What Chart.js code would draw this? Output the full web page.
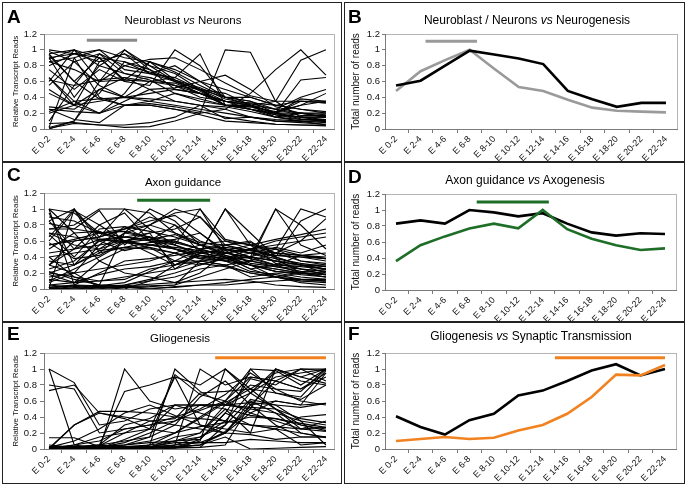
<!DOCTYPE html>
<html>
<head>
<meta charset="utf-8">
<script src="https://cdn.jsdelivr.net/npm/chart.js@4.4.1/dist/chart.umd.min.js"></script>
<style>
  body { margin: 0; background: #fff; }
  #fig { position: relative; width: 686px; height: 486px; font-family: "Liberation Sans", Arial, sans-serif; }
  .box { position: absolute; border: 1.5px solid #222; box-sizing: border-box; }
  canvas { position: absolute; }
  .letter { position: absolute; font-weight: bold; font-size: 19px; line-height: 18px; color: #000; }
  .title { position: absolute; font-size: 11.5px; line-height: 11px; white-space: nowrap; transform: translateX(-50%); color: #000; }
  .title.big { font-size: 12px; line-height: 11.5px; }
</style>
</head>
<body>
<div id="fig">
  <div class="box" style="left:2px;top:2px;width:340px;height:160px"></div>
  <div class="box" style="left:344px;top:2px;width:341px;height:160px"></div>
  <div class="box" style="left:2px;top:162px;width:340px;height:160px"></div>
  <div class="box" style="left:344px;top:162px;width:341px;height:160px"></div>
  <div class="box" style="left:2px;top:322px;width:340px;height:162px"></div>
  <div class="box" style="left:344px;top:322px;width:341px;height:162px"></div>

  <canvas id="chartA" width="341" height="160" style="left:1px;top:1px"></canvas>
  <canvas id="chartB" width="341" height="160" style="left:344px;top:1px"></canvas>
  <canvas id="chartC" width="341" height="159" style="left:1px;top:162px"></canvas>
  <canvas id="chartD" width="341" height="159" style="left:344px;top:162px"></canvas>
  <canvas id="chartE" width="341" height="162" style="left:1px;top:322px"></canvas>
  <canvas id="chartF" width="341" height="162" style="left:344px;top:322px"></canvas>

  <div class="letter" style="left:7px;top:8px">A</div>
  <div class="letter" style="left:348px;top:8px">B</div>
  <div class="letter" style="left:7px;top:166px">C</div>
  <div class="letter" style="left:348px;top:168px">D</div>
  <div class="letter" style="left:7px;top:325px">E</div>
  <div class="letter" style="left:348px;top:325px">F</div>

  <div class="title" style="left:183px;top:15px">Neuroblast <i>vs</i> Neurons</div>
  <div class="title big" style="left:527px;top:15px">Neuroblast / Neurons <i>vs</i> Neurogenesis</div>
  <div class="title" style="left:183px;top:177px">Axon guidance</div>
  <div class="title big" style="left:525px;top:175px">Axon guidance <i>vs</i> Axogenesis</div>
  <div class="title" style="left:180px;top:333px">Gliogenesis</div>
  <div class="title big" style="left:531px;top:331px">Gliogenesis <i>vs</i> Synaptic Transmission</div>
</div>

<script>
const stages = ["E 0-2", "E 2-4", "E 4-6", "E 6-8", "E 8-10", "E 10-12", "E 12-14", "E 14-16", "E 16-18", "E 18-20", "E 20-22", "E 22-24"];
const yTicks = [0, 0.2, 0.4, 0.6, 0.8, 1, 1.2];

// A: individual neuroblast / neuron genes
const neuronGenes = [
    [1.0, 0.95, 0.9, 0.85, 0.75, 0.6, 0.5, 0.35, 0.3, 0.2, 0.15, 0.15],
    [0.95, 1.0, 0.8, 0.7, 0.65, 0.55, 0.45, 0.3, 0.25, 0.15, 0.1, 0.1],
    [0.9, 0.4, 0.8, 1.0, 0.8, 0.6, 0.5, 0.3, 0.3, 0.2, 0.2, 0.2],
    [0.6, 1.0, 0.9, 0.6, 0.55, 1.0, 0.8, 0.4, 0.35, 0.2, 0.3, 0.35],
    [0.02, 0.1, 0.6, 1.0, 0.75, 0.5, 0.45, 0.35, 0.25, 0.2, 0.35, 0.35],
    [0.85, 0.9, 1.0, 0.75, 0.7, 0.65, 0.95, 0.3, 0.25, 0.18, 0.15, 0.12],
    [0.25, 0.22, 0.2, 0.3, 0.3, 0.25, 0.2, 1.0, 0.97, 0.35, 0.15, 0.1],
    [0.01, 0.07, 0.05, 0.02, 0.03, 0.1, 0.2, 0.25, 0.45, 0.75, 1.0, 0.68],
    [0.45, 0.3, 0.5, 0.4, 0.45, 0.5, 0.45, 0.35, 0.3, 0.35, 0.87, 1.0],
    [0.65, 0.3, 0.85, 0.95, 0.7, 0.8, 0.6, 0.4, 0.3, 0.2, 0.62, 0.65],
    [0.98, 0.85, 0.55, 0.4, 0.35, 0.3, 0.25, 0.2, 0.15, 0.1, 0.1, 0.05],
    [0.8, 0.95, 1.0, 0.9, 0.85, 0.75, 0.6, 0.5, 0.4, 0.3, 0.25, 0.2],
    [0.9, 0.95, 0.85, 0.95, 0.8, 0.7, 0.5, 0.3, 0.3, 0.15, 0.2, 0.15],
    [0.2, 0.3, 0.35, 0.4, 0.6, 0.65, 0.5, 0.4, 0.35, 0.25, 0.4, 0.5],
    [0.28, 0.25, 0.45, 0.85, 0.7, 0.6, 0.45, 0.3, 0.3, 0.2, 0.38, 0.35],
    [0.62, 0.55, 0.62, 0.65, 0.6, 0.55, 0.4, 0.35, 0.33, 0.3, 0.35, 0.33],
    [0.5, 0.3, 0.2, 0.45, 0.85, 0.72, 0.55, 0.4, 0.4, 0.3, 0.25, 0.22],
    [0.02, 0.9, 0.4, 0.3, 0.35, 0.45, 0.35, 0.3, 0.28, 0.18, 0.12, 0.12],
    [0.75, 0.5, 0.75, 0.6, 0.65, 0.55, 0.5, 0.45, 0.3, 0.25, 0.17, 0.17],
    [0.93, 0.6, 0.38, 0.3, 0.3, 0.25, 0.18, 0.1, 0.08, 0.06, 0.05, 0.04],
    [0.1, 0.55, 0.95, 0.8, 0.88, 0.9, 0.75, 0.58, 0.42, 0.35, 0.35, 0.33],
    [0.88, 1.0, 0.6, 0.62, 0.6, 0.58, 0.45, 0.35, 0.3, 0.2, 0.13, 0.1],
    [0.65, 0.35, 0.2, 0.35, 0.5, 0.52, 0.6, 0.68, 0.5, 0.28, 0.2, 0.18],
    [0.25, 0.12, 0.08, 0.3, 0.32, 0.28, 0.22, 0.15, 0.1, 0.06, 0.05, 0.05],
    [0.0, 0.1, 0.5, 0.65, 0.5, 0.35, 0.3, 0.13, 0.15, 0.12, 0.1, 0.08],
    [0.55, 0.85, 0.95, 0.7, 0.62, 0.45, 0.38, 0.3, 0.28, 0.22, 0.3, 0.45],
    [0.85, 0.75, 0.6, 0.8, 0.72, 0.62, 0.52, 0.38, 0.32, 0.25, 0.2, 0.15],
    [0.22, 0.35, 0.38, 0.4, 0.38, 0.35, 0.3, 0.28, 0.22, 0.15, 0.12, 0.1],
    [0.07, 0.08, 0.05, 0.05, 0.08, 0.15, 0.3, 0.25, 0.15, 0.1, 0.08, 0.06],
    [0.95, 0.6, 0.9, 0.62, 0.85, 0.62, 0.48, 0.3, 0.25, 0.18, 0.15, 0.15]
];

// B: totals
const neuroblastNeurons = [0.48, 0.73, 0.87, 1.0, 0.76, 0.53, 0.48, 0.37, 0.27, 0.23, 0.22, 0.21];
const neurogenesis = [0.55, 0.61, 0.80, 0.99, 0.94, 0.89, 0.82, 0.48, 0.375, 0.28, 0.33, 0.33];

// C: individual axon guidance genes
const axonGenes = [
    [1.0, 0.95, 0.7, 0.6, 0.55, 0.5, 0.45, 0.4, 0.35, 0.3, 0.28, 0.25],
    [0.85, 1.0, 0.45, 0.7, 0.65, 0.3, 0.45, 0.5, 0.4, 0.35, 0.3, 0.25],
    [0.01, 1.0, 0.65, 0.75, 0.9, 0.8, 0.6, 0.5, 0.45, 0.35, 0.3, 0.3],
    [1.0, 0.05, 0.01, 0.02, 0.03, 0.05, 0.35, 0.3, 0.2, 0.15, 0.1, 0.1],
    [0.75, 0.8, 1.0, 1.0, 0.95, 0.7, 0.55, 0.45, 0.5, 0.4, 0.3, 0.25],
    [0.2, 0.15, 0.1, 0.12, 0.25, 0.3, 0.45, 1.0, 0.7, 0.4, 0.3, 0.25],
    [0.3, 0.6, 0.65, 1.0, 0.75, 0.55, 1.0, 0.5, 0.4, 0.35, 0.3, 0.2],
    [0.05, 0.08, 0.1, 0.15, 0.2, 0.25, 0.35, 0.3, 0.35, 1.0, 0.8, 0.5],
    [0.4, 0.45, 0.5, 0.6, 0.55, 0.5, 0.4, 0.35, 0.4, 0.5, 1.0, 0.9],
    [0.15, 0.2, 0.25, 0.3, 0.35, 0.45, 0.55, 0.6, 0.5, 0.4, 0.85, 1.0],
    [0.7, 0.55, 0.5, 0.7, 1.0, 0.85, 0.55, 0.45, 0.38, 0.3, 0.2, 0.15],
    [0.22, 0.12, 0.05, 0.03, 0.01, 0.02, 0.05, 0.05, 0.08, 0.1, 0.12, 0.12],
    [0.55, 0.6, 0.65, 0.75, 0.8, 1.0, 0.9, 0.6, 0.55, 0.5, 0.42, 0.38],
    [0.95, 0.3, 0.62, 0.6, 0.65, 0.55, 0.42, 0.38, 0.3, 0.25, 0.2, 0.18],
    [0.08, 0.2, 0.02, 0.0, 0.1, 0.3, 0.42, 0.38, 0.5, 0.6, 0.65, 0.7],
    [0.6, 0.98, 0.8, 0.6, 0.7, 0.75, 0.9, 0.55, 0.45, 0.42, 0.4, 0.35],
    [0.3, 0.2, 0.55, 0.78, 0.6, 0.55, 0.45, 1.0, 0.55, 0.32, 0.25, 0.22],
    [0.0, 0.01, 0.03, 0.05, 0.1, 0.15, 0.25, 0.3, 0.15, 0.2, 0.15, 0.12],
    [0.45, 0.5, 0.62, 0.65, 0.7, 0.25, 0.45, 0.48, 0.55, 0.62, 0.68, 0.75],
    [0.68, 0.4, 0.75, 0.78, 0.72, 0.65, 0.55, 0.42, 0.35, 0.28, 0.22, 0.2],
    [0.1, 0.25, 0.4, 0.58, 0.62, 0.58, 0.5, 0.4, 0.3, 0.22, 0.18, 0.15],
    [0.82, 0.75, 0.7, 0.65, 0.6, 0.8, 0.45, 0.4, 0.25, 0.3, 0.3, 0.28],
    [0.02, 0.05, 0.04, 0.08, 0.22, 0.35, 0.35, 0.38, 0.4, 1.0, 0.55, 0.42],
    [0.35, 0.3, 0.48, 0.52, 0.5, 0.45, 0.38, 0.35, 0.3, 0.25, 0.2, 0.15],
    [0.01, 0.04, 0.03, 0.02, 0.0, 0.03, 0.05, 0.08, 0.12, 0.15, 0.2, 0.25],
    [0.55, 0.62, 0.7, 0.75, 0.85, 0.92, 0.7, 0.45, 0.5, 0.5, 0.35, 0.32],
    [0.9, 0.85, 0.7, 0.72, 0.65, 0.5, 0.38, 0.45, 0.4, 0.35, 0.25, 0.18],
    [0.18, 0.08, 0.35, 0.2, 0.15, 0.08, 0.2, 0.45, 0.4, 0.3, 0.42, 0.45],
    [0.02, 0.05, 0.2, 0.35, 0.38, 0.42, 0.48, 0.35, 0.22, 0.18, 0.12, 0.1],
    [0.75, 0.75, 0.98, 0.55, 0.8, 0.7, 0.58, 0.55, 0.48, 0.42, 0.4, 0.38],
    [0.3, 0.5, 0.55, 0.6, 0.45, 0.3, 0.35, 0.55, 0.6, 0.38, 0.2, 0.18],
    [0.12, 0.08, 0.18, 0.25, 0.28, 0.35, 0.5, 0.55, 0.58, 0.45, 0.35, 0.3],
    [0.65, 1.0, 0.6, 0.48, 0.55, 0.6, 0.5, 0.42, 0.3, 0.15, 0.12, 0.1],
    [0.05, 0.02, 0.0, 0.05, 0.12, 0.2, 0.3, 0.4, 0.25, 0.15, 0.08, 0.05],
    [0.7, 0.65, 0.62, 0.58, 0.55, 0.52, 0.48, 0.45, 0.5, 0.55, 0.6, 0.65],
    [0.85, 0.5, 0.8, 0.95, 0.6, 0.5, 0.42, 0.35, 0.3, 0.22, 0.2, 0.18],
    [0.25, 0.35, 0.6, 0.65, 0.62, 0.68, 0.55, 0.5, 0.45, 0.38, 0.32, 0.28],
    [0.0, 0.03, 0.05, 0.04, 0.06, 0.08, 0.1, 0.12, 0.1, 0.05, 0.03, 0.02],
    [0.4, 0.15, 0.05, 0.7, 0.8, 0.95, 1.0, 0.62, 0.55, 0.45, 0.42, 0.4],
    [1.0, 0.7, 0.35, 0.5, 0.52, 0.45, 0.32, 0.28, 0.2, 0.15, 0.1, 0.08],
    [0.58, 0.38, 0.42, 0.6, 0.65, 0.6, 0.5, 0.52, 0.48, 0.45, 0.42, 0.38],
    [0.2, 0.3, 0.45, 0.52, 0.58, 0.62, 0.7, 0.48, 0.32, 0.28, 0.25, 0.22],
    [0.5, 0.7, 0.72, 0.6, 0.52, 0.35, 0.3, 0.38, 0.45, 0.52, 0.45, 0.55],
    [0.01, 0.0, 0.02, 0.03, 0.04, 0.05, 0.15, 0.25, 0.35, 0.45, 0.6, 0.88]
];

// D: totals
const axonGuidance = [0.36, 0.56, 0.67, 0.77, 0.83, 0.77, 1.0, 0.76, 0.64, 0.56, 0.50, 0.52];
const axogenesis = [0.83, 0.87, 0.83, 1.0, 0.97, 0.92, 0.96, 0.83, 0.72, 0.68, 0.71, 0.70];

// E: individual gliogenesis genes
const glioGenes = [
    [1.0, 0.83, 0.3, 0.35, 0.5, 0.55, 0.45, 0.35, 0.3, 0.28, 0.25, 0.22],
    [1.0, 0.05, 0.01, 0.0, 0.05, 0.1, 0.2, 0.55, 0.7, 0.9, 0.95, 1.0],
    [0.8, 0.75, 0.2, 0.25, 0.3, 0.35, 0.55, 0.55, 0.5, 0.45, 0.35, 0.3],
    [0.73, 0.8, 0.45, 0.4, 0.35, 0.3, 0.25, 0.2, 0.18, 0.12, 0.15, 0.15],
    [0.14, 0.14, 0.03, 0.01, 0.02, 0.03, 0.05, 0.22, 0.5, 1.0, 0.85, 0.8],
    [0.0, 0.3, 0.47, 0.47, 0.45, 0.4, 0.38, 0.35, 0.3, 0.25, 0.2, 0.15],
    [0.01, 0.02, 0.0, 1.0, 0.6, 0.5, 0.55, 0.5, 0.42, 0.38, 0.3, 0.25],
    [0.03, 0.01, 0.05, 0.72, 0.8, 0.9, 0.3, 0.2, 0.55, 0.6, 0.55, 0.57],
    [0.0, 0.03, 0.02, 0.01, 0.05, 1.0, 0.72, 0.55, 0.52, 0.5, 0.38, 0.33],
    [0.02, 0.0, 0.04, 0.05, 0.15, 0.93, 0.68, 0.6, 1.0, 0.7, 0.65, 0.98],
    [0.01, 0.05, 0.15, 0.2, 0.25, 0.9, 0.8, 1.0, 0.7, 0.5, 0.3, 0.23],
    [0.0, 0.01, 0.03, 0.02, 0.0, 0.05, 1.0, 0.8, 0.9, 0.85, 0.75, 0.95],
    [0.02, 0.0, 0.01, 0.03, 0.02, 0.01, 0.1, 1.0, 0.75, 0.95, 1.0, 0.85],
    [0.01, 0.02, 0.05, 0.03, 0.03, 0.05, 0.15, 0.3, 1.0, 0.98, 0.8, 1.0],
    [0.0, 0.01, 0.02, 0.01, 0.02, 0.1, 0.15, 0.35, 0.7, 1.0, 0.9, 0.82],
    [0.02, 0.03, 0.01, 0.03, 0.05, 0.2, 0.4, 0.6, 0.9, 0.85, 1.0, 0.98],
    [0.01, 0.05, 0.1, 0.25, 0.3, 0.4, 0.5, 0.68, 0.95, 0.75, 0.72, 1.0],
    [0.0, 0.0, 0.01, 0.02, 0.01, 0.02, 0.05, 0.15, 0.0, 0.01, 0.02, 0.03],
    [0.02, 0.01, 0.03, 0.05, 0.08, 0.1, 0.12, 0.45, 0.3, 0.25, 0.05, 0.08],
    [0.01, 0.02, 0.04, 0.02, 0.01, 0.05, 0.08, 0.2, 0.6, 0.45, 0.2, 0.14],
    [0.02, 0.1, 0.25, 0.45, 0.55, 0.42, 0.3, 0.25, 0.2, 0.25, 0.4, 0.43],
    [0.0, 0.02, 0.05, 0.3, 0.38, 0.55, 0.55, 0.55, 0.58, 0.55, 0.52, 0.57],
    [0.01, 0.0, 0.02, 0.01, 0.03, 0.02, 0.02, 0.05, 0.55, 0.85, 0.75, 0.9],
    [0.02, 0.03, 0.05, 0.1, 0.15, 0.3, 0.65, 0.85, 0.55, 0.3, 0.15, 0.15],
    [0.0, 0.02, 0.01, 0.0, 0.02, 0.15, 0.2, 0.5, 0.2, 1.0, 0.9, 1.0],
    [0.03, 0.01, 0.02, 0.05, 0.1, 0.2, 0.38, 0.58, 0.75, 0.5, 0.25, 0.27],
    [0.01, 0.02, 0.0, 0.02, 0.01, 0.03, 0.05, 0.2, 0.45, 0.6, 0.55, 0.95],
    [0.0, 0.01, 0.04, 0.2, 0.35, 0.38, 0.7, 0.72, 0.75, 0.7, 0.62, 0.8],
    [0.02, 0.03, 0.02, 0.01, 0.0, 0.01, 0.02, 0.3, 0.62, 0.55, 0.35, 0.05],
    [0.01, 0.0, 0.02, 0.08, 0.2, 0.35, 0.48, 0.6, 0.45, 0.35, 0.25, 0.35],
    [0.0, 0.01, 0.03, 0.01, 0.02, 0.02, 0.12, 0.45, 0.88, 0.8, 1.0, 1.0],
    [0.02, 0.0, 0.01, 0.12, 0.25, 0.55, 0.55, 0.55, 0.8, 0.75, 0.6, 0.55],
    [0.05, 0.02, 0.01, 0.02, 0.03, 0.08, 0.08, 0.08, 0.12, 0.1, 0.08, 0.08],
    [0.01, 0.3, 0.45, 0.38, 0.25, 0.2, 0.28, 0.33, 0.4, 0.38, 0.32, 0.27]
];

// F: totals
const gliogenesis = [0.10, 0.125, 0.15, 0.125, 0.14, 0.23, 0.30, 0.44, 0.65, 0.93, 0.92, 1.05];
const synapticTransmission = [0.41, 0.275, 0.18, 0.36, 0.44, 0.67, 0.73, 0.85, 0.98, 1.06, 0.92, 1.0];

// peak windows (stage index range) and their bar level
const windowA = [1.5, 3.5], levelA = 1.12;
const windowB = [1.2, 3.3], levelB = 1.11;
const windowC = [3.5, 6.4], levelC = 1.11;
const windowD = [3.3, 6.25], levelD = 1.10;
const windowE = [6.6, 11.0], levelE = 1.14;
const windowF = [6.5, 11.0], levelF = 1.14;

const FONT = "'Liberation Sans', Arial, sans-serif";
const GRAY = "#9a9a9a";
const GREEN = "#1e6e28";
const ORANGE = "#f2821f";

const plotFrame = {
    id: "plotFrame",
    beforeDraw(chart) {
        const a = chart.chartArea;
        const c = chart.ctx;
        c.save();
        c.strokeStyle = "#b5b5b5";
        c.lineWidth = 1;
        c.strokeRect(Math.round(a.left) + 0.5, Math.round(a.top) + 0.5,
            Math.round(a.right - a.left), Math.round(a.bottom - a.top));
        c.restore();
    }
};

function toPoints(values) {
    return values.map((v, i) => ({ x: i, y: v }));
}

function windowLine(win, level, color) {
    return {
        data: [{ x: win[0], y: level }, { x: win[1], y: level }],
        borderColor: color,
        borderWidth: 3,
        pointRadius: 0
    };
}

function makeChart(id, datasets, cfg) {
    new Chart(document.getElementById(id), {
        type: "line",
        data: { datasets },
        options: {
            responsive: false,
            animation: false,
            devicePixelRatio: 1,
            layout: { padding: { left: 0, top: cfg.padTop, right: cfg.padRight, bottom: 0 } },
            elements: { line: { tension: 0 }, point: { radius: 0 } },
            plugins: { legend: { display: false }, tooltip: { enabled: false } },
            scales: {
                x: {
                    type: "linear",
                    min: cfg.xMin,
                    max: cfg.xMax,
                    afterFit: s => { s.height = cfg.xH; },
                    border: { color: "#7a7a7a" },
                    grid: { offset: true, drawOnChartArea: false, tickLength: 4, color: "#7a7a7a" },
                    ticks: {
                        stepSize: 1,
                        includeBounds: false,
                        autoSkip: false,
                        minRotation: 45,
                        maxRotation: 45,
                        padding: 1,
                        color: "#111",
                        font: { family: FONT, size: 9 },
                        callback: v => stages[v] || ""
                    }
                },
                y: {
                    min: 0,
                    max: 1.2,
                    afterFit: s => { s.width = cfg.yW; },
                    afterBuildTicks: s => { s.ticks = yTicks.map(v => ({ value: v })); },
                    border: { color: "#7a7a7a" },
                    grid: { drawOnChartArea: false, tickLength: cfg.yTick, color: "#7a7a7a" },
                    ticks: {
                        padding: cfg.yPad,
                        color: "#111",
                        font: { family: FONT, size: 9.5 },
                        callback: v => String(+v.toFixed(1))
                    },
                    title: {
                        display: true,
                        text: cfg.yTitle,
                        color: "#111",
                        font: { family: FONT, size: cfg.yTitleSize },
                        padding: { top: cfg.yTitlePad, bottom: 0 }
                    }
                }
            }
        },
        plugins: [plotFrame]
    });
}

function geneLines(list) {
    return list.map(vals => ({
        data: toPoints(vals),
        borderColor: "#000",
        borderWidth: 1.1,
        pointRadius: 0
    }));
}

function totalLine(vals, color) {
    return { data: toPoints(vals), borderColor: color, borderWidth: 2.6, pointRadius: 0 };
}

const geneCfg = { xMin: -0.2, xMax: 11.32, yW: 43, yTick: 4, yPad: 3, yTitle: "Relative Transcript Reads", yTitleSize: 8, yTitlePad: 10 };
const totalCfg = { xMin: -0.45, xMax: 11.45, yW: 41, yTick: 3, yPad: 2, yTitle: "Total number of reads", yTitleSize: 10, yTitlePad: 6 };

makeChart("chartA", [windowLine(windowA, levelA, "#8a8a8a"), ...geneLines(neuronGenes)],
    Object.assign({}, geneCfg, { padTop: 33, padRight: 8, xH: 32 }));
makeChart("chartB", [windowLine(windowB, levelB, GRAY), totalLine(neurogenesis, "#000"), totalLine(neuroblastNeurons, GRAY)],
    Object.assign({}, totalCfg, { padTop: 33, padRight: 8, xH: 32 }));
makeChart("chartC", [windowLine(windowC, levelC, GREEN), ...geneLines(axonGenes)],
    Object.assign({}, geneCfg, { padTop: 31, padRight: 8, xH: 32 }));
makeChart("chartD", [windowLine(windowD, levelD, GREEN), totalLine(axonGuidance, GREEN), totalLine(axogenesis, "#000")],
    Object.assign({}, totalCfg, { padTop: 32, padRight: 9, xH: 31 }));
makeChart("chartE", [windowLine(windowE, levelE, ORANGE), ...geneLines(glioGenes)],
    Object.assign({}, geneCfg, { padTop: 31, padRight: 8, xH: 35 }));
makeChart("chartF", [windowLine(windowF, levelF, ORANGE), totalLine(gliogenesis, ORANGE), totalLine(synapticTransmission, "#000")],
    Object.assign({}, totalCfg, { padTop: 31, padRight: 9, xH: 35 }));
</script>
</body>
</html>
